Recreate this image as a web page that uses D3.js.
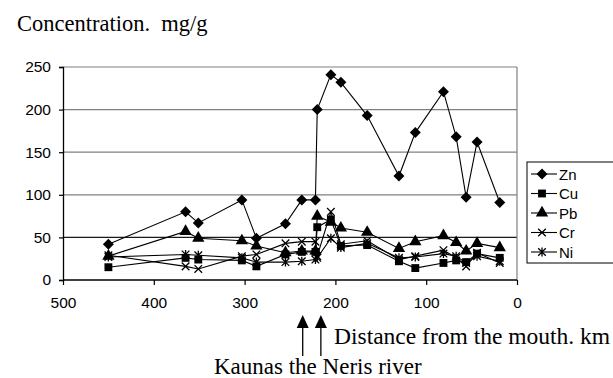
<!DOCTYPE html>
<html>
<head>
<meta charset="utf-8">
<script src="https://cdn.jsdelivr.net/npm/d3@7"></script>
<style>
  body { margin: 0; background: #fff; }
  svg { display: block; }
</style>
</head>
<body>
<div id="chart"></div>
<script>
// distance from the mouth, km
const distances = [450, 365, 351, 303, 287, 255, 237, 222, 220, 205, 194, 165, 130, 112, 81, 67, 56, 44, 19];

const zn = [42, 80, 67, 94, 49, 66, 94, 94, 200, 241, 232, 193, 122, 173, 221, 168, 97, 162, 91];
const cu = [15, 26, 24, 23, 16, 30, 33, 33, 62, 71, 40, 41, 22, 14, 20, 23, 21, 31, 26];
const pb = [28, 57, 49, 46, 40, 32, 34, 34, 75, 68, 61, 56, 37, 45, 52, 44, 34, 43, 38];
const cr = [29, 16, 13, 28, 30, 43, 45, 45, 28, 80, 42, 46, 24, 28, 35, 26, 16, 32, 20];
const ni = [27, 30, 29, 26, 21, 21, 22, 24, 26, 49, 38, 43, 26, 27, 31, 28, 20, 28, 22];

const seriesNames = ['Zn', 'Cu', 'Pb', 'Cr', 'Ni'];
const seriesValues = [zn, cu, pb, cr, ni];

const xTicks = [500, 400, 300, 200, 100, 0];
const yTicks = [0, 50, 100, 150, 200, 250];

// Kaunas, the Neris river mouth
const arrowKm = [236, 216];

const width = 613, height = 378;
const plot = { left: 63, right: 517, top: 67, bottom: 280 };

const x = d3.scaleLinear().domain([500, 0]).range([plot.left, plot.right]);
const y = d3.scaleLinear().domain([0, 250]).range([plot.bottom, plot.top]);

const sans = '"Liberation Sans", Arial, sans-serif';
const serif = '"Liberation Serif", "Times New Roman", serif';

const svg = d3.select('#chart').append('svg')
    .attr('width', width)
    .attr('height', height);

svg.append('rect').attr('width', width).attr('height', height).attr('fill', '#fff');

// grid lines (the 50 line is drawn darker in the original)
svg.append('g')
    .selectAll('line')
    .data(yTicks.filter(d => d > 0))
    .join('line')
    .attr('x1', plot.left).attr('x2', plot.right)
    .attr('y1', d => y(d)).attr('y2', d => y(d))
    .attr('stroke', d => d === 50 ? '#1a1a1a' : '#808080')
    .attr('stroke-width', 1.2);

// right border of plot
svg.append('line')
    .attr('x1', plot.right).attr('x2', plot.right)
    .attr('y1', plot.top).attr('y2', plot.bottom)
    .attr('stroke', '#808080')
    .attr('stroke-width', 1.2);

// axes
const xAxis = d3.axisBottom(x).tickValues(xTicks).tickSize(5).tickPadding(12);
const yAxis = d3.axisLeft(y).tickValues(yTicks).tickSize(4).tickPadding(8);

const gx = svg.append('g')
    .attr('transform', `translate(0,${plot.bottom})`)
    .call(xAxis);
const gy = svg.append('g')
    .attr('transform', `translate(${plot.left},0)`)
    .call(yAxis);

[gx, gy].forEach(g => {
    g.select('.domain').attr('stroke', '#000').attr('stroke-width', 1.3);
    g.selectAll('.tick line').attr('stroke', '#000').attr('stroke-width', 1.2);
    g.selectAll('.tick text')
        .attr('fill', '#000')
        .style('font-family', sans)
        .style('font-size', '15.5px');
});
gx.select('.domain').attr('d', `M${plot.left},0H${plot.right}`);

// symbols
const diamondPath = 'M0,-5.5L5.5,0L0,5.5L-5.5,0Z';
const square = d3.symbol().type(d3.symbolSquare).size(62);
const triangle = d3.symbol().type(d3.symbolTriangle).size(66);
const crossPath = 'M-3.8,-3.8L3.8,3.8M-3.8,3.8L3.8,-3.8';
const starPath = 'M-3.8,-3.8L3.8,3.8M-3.8,3.8L3.8,-3.8M0,-4.5L0,4.5';

function drawMarker(g, i) {
    if (i === 0) g.append('path').attr('d', diamondPath).attr('fill', '#000');
    else if (i === 1) g.append('path').attr('d', square()).attr('fill', '#000');
    else if (i === 2) g.append('path').attr('d', triangle()).attr('fill', '#000');
    else if (i === 3) g.append('path').attr('d', crossPath).attr('stroke', '#000').attr('stroke-width', 1.3).attr('fill', 'none');
    else g.append('path').attr('d', starPath).attr('stroke', '#000').attr('stroke-width', 1.3).attr('fill', 'none');
}

const line = d3.line()
    .x((d, i) => x(distances[i]))
    .y(d => y(d));

seriesValues.forEach((vals, si) => {
    const g = svg.append('g').attr('class', 'series');
    g.append('path')
        .datum(vals)
        .attr('d', line)
        .attr('fill', 'none')
        .attr('stroke', '#000')
        .attr('stroke-width', 1.1);
    vals.forEach((v, i) => {
        const m = g.append('g').attr('transform', `translate(${x(distances[i])},${y(v)})`);
        drawMarker(m, si);
    });
});

// legend
const legend = svg.append('g').attr('transform', 'translate(527,162)');
legend.append('rect')
    .attr('x', 0).attr('y', 0)
    .attr('width', 100).attr('height', 101)
    .attr('fill', '#fff')
    .attr('stroke', '#000')
    .attr('stroke-width', 1);
seriesNames.forEach((name, i) => {
    const row = legend.append('g').attr('transform', `translate(0,${12 + i * 19.5})`);
    row.append('line')
        .attr('x1', 4).attr('x2', 30)
        .attr('stroke', '#000').attr('stroke-width', 1.1);
    drawMarker(row.append('g').attr('transform', 'translate(15,0)'), i);
    row.append('text')
        .attr('x', 32).attr('y', 5.5)
        .style('font-family', sans)
        .style('font-size', '15px')
        .text(name);
});

// titles
svg.append('text')
    .attr('x', 17).attr('y', 31)
    .style('font-family', serif).style('font-size', '22.5px')
    .style('white-space', 'pre')
    .text('Concentration.  mg/g');

svg.append('text')
    .attr('x', 334).attr('y', 344)
    .style('font-family', serif).style('font-size', '23.5px')
    .text('Distance from the mouth. km');

svg.append('text')
    .attr('x', 214).attr('y', 374)
    .style('font-family', serif).style('font-size', '23px')
    .text('Kaunas the Neris river');

// arrows for Kaunas and the Neris river
arrowKm.forEach(km => {
    const ax = x(km);
    svg.append('line')
        .attr('x1', ax).attr('x2', ax)
        .attr('y1', 325).attr('y2', 356)
        .attr('stroke', '#000').attr('stroke-width', 1.3);
    svg.append('path')
        .attr('d', `M${ax},315L${ax - 6},328L${ax + 6},328Z`)
        .attr('fill', '#000');
});
</script>
</body>
</html>
